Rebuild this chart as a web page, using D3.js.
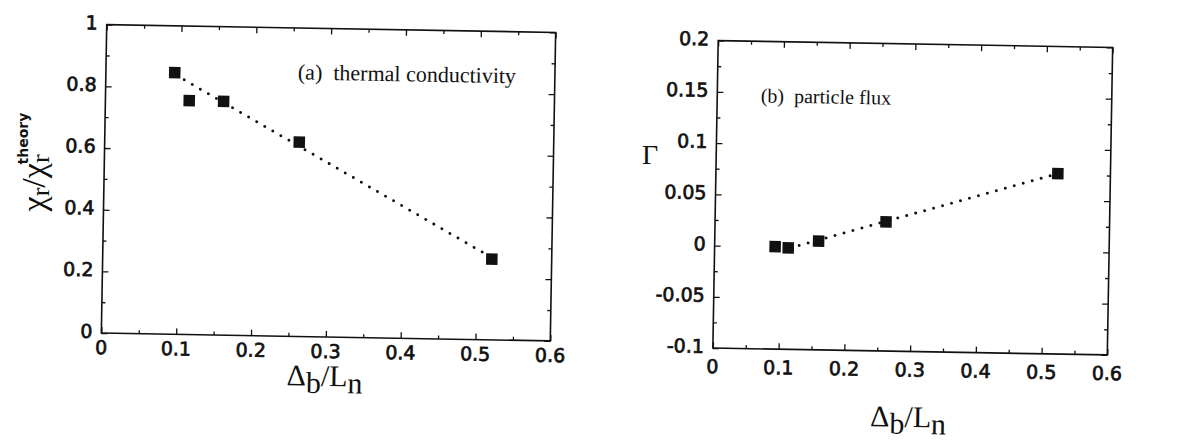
<!DOCTYPE html>
<html>
<head>
<meta charset="utf-8">
<script src="https://cdn.jsdelivr.net/npm/d3@7"></script>
<style>
  body { margin: 0; background: #fff; }
  svg { display: block; }
  .tick-label { font-family: "DejaVu Sans", sans-serif; font-size: 19px; fill: #111; stroke: #111; stroke-width: 0.7px; }
  .serif { font-family: "Liberation Serif", "Times New Roman", serif; fill: #111; }
</style>
</head>
<body>
<svg id="chart"></svg>
<script>
// shared x values (Delta_b / L_n)
const ratio = [0.092, 0.112, 0.158, 0.26, 0.52];

// panel (a): thermal conductivity
const chiRatio = [0.848, 0.758, 0.758, 0.63, 0.262];
const fitA = [[0.094, 0.84], [0.51, 0.28]];
const xTicksA = [0, 0.1, 0.2, 0.3, 0.4, 0.5, 0.6];
const yTicksA = [0, 0.2, 0.4, 0.6, 0.8, 1];

// panel (b): particle flux
const flux = [0.0, -0.001, 0.006, 0.026, 0.076];
const fitB = [[0.115, -0.001], [0.51, 0.074]];
const xTicksB = [0, 0.1, 0.2, 0.3, 0.4, 0.5, 0.6];
const yTicksB = [-0.1, -0.05, 0, 0.05, 0.1, 0.15, 0.2];

const w = 1192;
const h = 441;

const svg = d3.select('#chart')
  .attr('width', w)
  .attr('height', h);

const drawPanel = (opt) => {
  const cx = (opt.left + opt.right) / 2;
  const cy = (opt.top + opt.bottom) / 2;
  // the scan is a little tilted, about 1 degree clockwise
  const g = svg.append('g')
    .attr('transform', 'rotate(' + opt.tilt + ',' + cx + ',' + cy + ')');

  const xScale = d3.scaleLinear().domain(opt.xDomain).range([opt.left, opt.right]);
  const yScale = d3.scaleLinear().domain(opt.yDomain).range([opt.bottom, opt.top]);

  const minor = (ticks) => {
    const out = [];
    for (let i = 0; i < ticks.length - 1; i++) out.push((ticks[i] + ticks[i + 1]) / 2);
    return out;
  };

  // inward ticks on all four sides
  const axes = [
    { axis: d3.axisBottom(xScale), tr: 'translate(0,' + opt.bottom + ')' },
    { axis: d3.axisTop(xScale), tr: 'translate(0,' + opt.top + ')' },
    { axis: d3.axisLeft(yScale), tr: 'translate(' + opt.left + ',0)' },
    { axis: d3.axisRight(yScale), tr: 'translate(' + opt.right + ',0)' }
  ];
  axes.forEach((a, i) => {
    const major = i < 2 ? opt.xTicks : opt.yTicks;
    [[major, 6], [minor(major), 3.5]].forEach(([vals, len]) => {
      const ax = a.axis.tickValues(vals).tickSize(-len).tickFormat('');
      const gg = g.append('g')
        .attr('transform', a.tr)
        .call(ax);
      gg.select('.domain').remove();
      gg.selectAll('line').attr('stroke', '#111').attr('stroke-width', 1.3);
    });
  });

  g.append('rect')
    .attr('x', opt.left)
    .attr('y', opt.top)
    .attr('width', opt.right - opt.left)
    .attr('height', opt.bottom - opt.top)
    .attr('fill', 'none')
    .attr('stroke', '#111')
    .attr('stroke-width', 1.6);

  // tick labels
  g.selectAll('.xlab')
    .data(opt.xTicks)
    .enter()
    .append('text')
    .attr('class', 'tick-label')
    .attr('x', (d) => xScale(d))
    .attr('y', opt.bottom + opt.xLabelGap)
    .attr('text-anchor', 'middle')
    .attr('dominant-baseline', 'central')
    .text((d) => d);

  g.selectAll('.ylab')
    .data(opt.yTicks)
    .enter()
    .append('text')
    .attr('class', 'tick-label')
    .attr('x', opt.left - 9)
    .attr('y', (d) => yScale(d) - 2)
    .attr('text-anchor', 'end')
    .attr('dominant-baseline', 'central')
    .text((d) => d);

  // dotted fit line
  const line = d3.line()
    .x((d) => xScale(d[0]))
    .y((d) => yScale(d[1]));
  g.append('path')
    .datum(opt.fit)
    .attr('d', line)
    .attr('fill', 'none')
    .attr('stroke', '#111')
    .attr('stroke-width', 3)
    .attr('stroke-linecap', 'round')
    .attr('stroke-dasharray', '0 9.3');

  // square markers
  const s = 11.5;
  g.selectAll('.pt')
    .data(opt.xs.map((x, i) => [x, opt.ys[i]]))
    .enter()
    .append('rect')
    .attr('x', (d) => xScale(d[0]) - s / 2)
    .attr('y', (d) => yScale(d[1]) - s / 2)
    .attr('width', s)
    .attr('height', s)
    .attr('fill', '#111');

  g.append('text')
    .attr('class', 'serif')
    .attr('x', opt.noteX)
    .attr('y', opt.noteY)
    .attr('font-size', opt.noteSize)
    .attr('xml:space', 'preserve')
    .text(opt.note);

  // x-axis title: Delta_b / L_n
  const xt = g.append('text')
    .attr('class', 'serif')
    .attr('x', opt.xTitleX)
    .attr('y', opt.xTitleY)
    .attr('text-anchor', 'middle')
    .attr('font-size', 30);
  xt.append('tspan').text('Δ');
  xt.append('tspan').attr('dy', 7).text('b');
  xt.append('tspan').attr('dy', -7).text('/');
  xt.append('tspan').text('L');
  xt.append('tspan').attr('dy', 7).text('n');

  return g;
};

const gA = drawPanel({
  left: 104, right: 553, top: 28.5, bottom: 337, tilt: 1,
  xDomain: [0, 0.6], yDomain: [0, 1],
  xTicks: xTicksA, yTicks: yTicksA,
  xs: ratio, ys: chiRatio, fit: fitA,
  xLabelGap: 14,
  note: '(a)  thermal conductivity', noteX: 296, noteY: 80, noteSize: 22,
  xTitleX: 328, xTitleY: 386
});

const gB = drawPanel({
  left: 715.5, right: 1110, top: 44, bottom: 351.5, tilt: 1,
  xDomain: [0, 0.6], yDomain: [-0.1, 0.2],
  xTicks: xTicksB, yTicks: yTicksB,
  xs: ratio, ys: flux, fit: fitB,
  xLabelGap: 18,
  note: '(b)  particle flux', noteX: 759, noteY: 105, noteSize: 20,
  xTitleX: 912, xTitleY: 427
});

// y-axis titles
const yt = svg.append('text')
  .attr('class', 'serif')
  .attr('transform', 'translate(45,162) rotate(-90)')
  .attr('text-anchor', 'middle')
  .attr('font-size', 34);
yt.append('tspan').text('χ');
yt.append('tspan').attr('dy', 4).attr('font-size', 26).text('r');
yt.append('tspan').attr('dy', -4).text('/');
yt.append('tspan').text('χ');
yt.append('tspan').attr('dy', 4).attr('font-size', 26).text('r');
yt.append('tspan')
  .attr('dy', -21)
  .attr('dx', -10)
  .attr('font-size', 14)
  .attr('font-family', 'DejaVu Sans, sans-serif')
  .attr('font-weight', 'bold')
  .text('theory');

svg.append('text')
  .attr('class', 'serif')
  .attr('x', 650)
  .attr('y', 164)
  .attr('text-anchor', 'middle')
  .attr('font-size', 28)
  .text('Γ');
</script>
</body>
</html>
